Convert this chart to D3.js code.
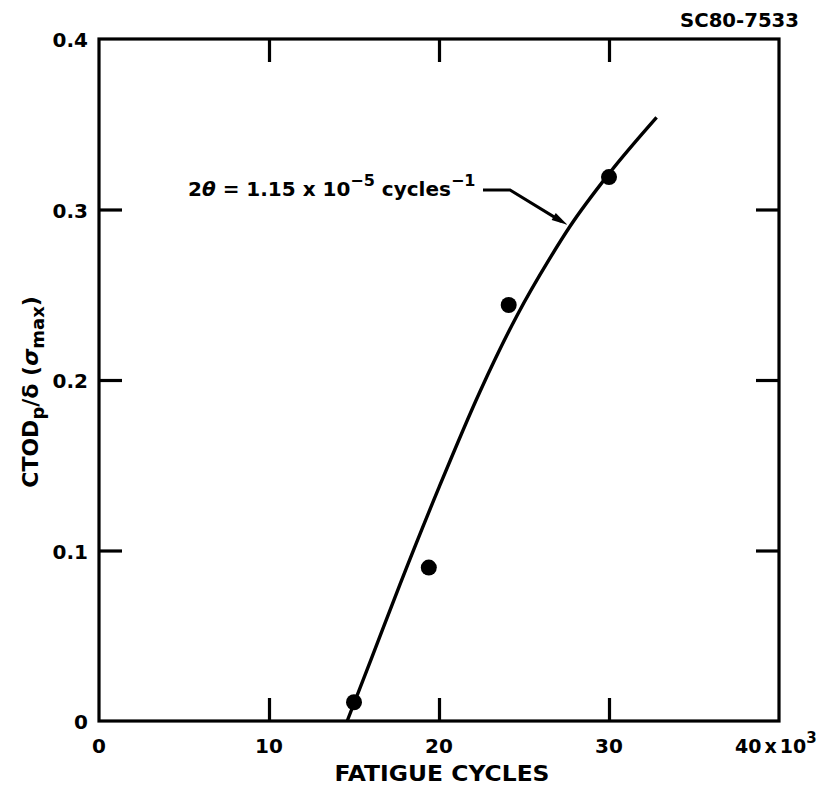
<!DOCTYPE html>
<html>
<head>
<meta charset="utf-8">
<script src="https://cdn.jsdelivr.net/npm/d3@7"></script>
<style>
  html, body { margin: 0; padding: 0; background: #fff; }
  svg text { font-family: "DejaVu Sans", "Liberation Sans", Arial, sans-serif; font-weight: bold; fill: #000; }
</style>
</head>
<body>
<svg id="chart" width="837" height="793"></svg>
<script>
// Measured points: fatigue cycles (thousands) vs normalised plastic CTOD
const cycles = [15.0, 19.4, 24.1, 30.0];
const ctod = [0.011, 0.09, 0.244, 0.319];

// Fitted curve for 2θ = 1.15e-5 cycles^-1
const fitCycles = [14.6, 16.0, 17.7, 20.0, 22.4, 24.6, 26.5, 27.7, 30.0, 32.8];
const fitCtod   = [0.0, 0.036, 0.080, 0.137, 0.193, 0.238, 0.271, 0.290, 0.321, 0.354];

const xTicks = [0, 10, 20, 30, 40];
const yTicks = [0, 0.1, 0.2, 0.3, 0.4];
const yTickLabels = ["0", "0.1", "0.2", "0.3", "0.4"];

const svg = d3.select("#chart");
const margin = { left: 99, right: 58, top: 39, bottom: 72 };
const W = 837, H = 793;

const x = d3.scaleLinear().domain([0, 40]).range([margin.left, W - margin.right]);
const y = d3.scaleLinear().domain([0, 0.4]).range([H - margin.bottom, margin.top]);

const tickLen = 23;
const axisW = 3.2;

// Inward ticks on all four sides
const axes = [
  d3.axisBottom(x).tickValues(xTicks.slice(1, -1)).tickSizeInner(-tickLen).tickSizeOuter(0).tickFormat(""),
  d3.axisTop(x).tickValues(xTicks.slice(1, -1)).tickSizeInner(-tickLen).tickSizeOuter(0).tickFormat(""),
  d3.axisLeft(y).tickValues(yTicks.slice(1, -1)).tickSizeInner(-tickLen).tickSizeOuter(0).tickFormat(""),
  d3.axisRight(y).tickValues(yTicks.slice(1, -1)).tickSizeInner(-tickLen).tickSizeOuter(0).tickFormat("")
];
const shifts = [
  `translate(0,${y(0)})`, `translate(0,${y(0.4)})`,
  `translate(${x(0)},0)`, `translate(${x(40)},0)`
];
axes.forEach((ax, i) => {
  const g = svg.append("g").attr("transform", shifts[i]).call(ax);
  g.selectAll("line").attr("stroke", "#000").attr("stroke-width", axisW);
  g.select(".domain").remove();
});

// Frame
svg.append("rect")
  .attr("x", x(0)).attr("y", y(0.4))
  .attr("width", x(40) - x(0)).attr("height", y(0) - y(0.4))
  .attr("fill", "none").attr("stroke", "#000").attr("stroke-width", axisW);

// X tick labels
xTicks.slice(0, -1).forEach(v => {
  svg.append("text").attr("x", x(v)).attr("y", y(0) + 32)
    .attr("text-anchor", "middle").attr("font-size", 20).text(v);
});
// last x label carries the ×10^3 multiplier, set with tight spacing
const lastLbl = svg.append("text").attr("x", x(40) - 44).attr("y", y(0) + 32).attr("font-size", 19);
lastLbl.append("tspan").text(xTicks[xTicks.length - 1]);
lastLbl.append("tspan").attr("dx", 3).text("x");
lastLbl.append("tspan").attr("dx", 3).text("10");
lastLbl.append("tspan").attr("font-size", 15).attr("dy", -10).text("3");

// Y tick labels
yTicks.forEach((v, i) => {
  svg.append("text").attr("x", x(0) - 11).attr("y", y(v) + 8)
    .attr("text-anchor", "end").attr("font-size", 20).text(yTickLabels[i]);
});

// Axis titles
svg.append("text").attr("x", (x(0) + x(40)) / 2 + 3).attr("y", 781)
  .attr("text-anchor", "middle").attr("font-size", 21)
  .attr("textLength", 215).attr("lengthAdjust", "spacingAndGlyphs")
  .text("FATIGUE CYCLES");

const yl = svg.append("text")
  .attr("transform", `translate(38,${y(0.193)}) rotate(-90)`)
  .attr("text-anchor", "middle").attr("font-size", 22);
yl.append("tspan").text("CTOD");
yl.append("tspan").attr("font-size", 18).attr("dy", 6).text("p");
yl.append("tspan").attr("dy", -6).text("/δ (");
yl.append("tspan").attr("font-style", "italic").text("σ");
yl.append("tspan").attr("font-size", 18).attr("dy", 6).text("max");
yl.append("tspan").attr("dy", -6).text(")");

// Report number
svg.append("text").attr("x", 799).attr("y", 27).attr("text-anchor", "end")
  .attr("font-size", 19).attr("textLength", 119).attr("lengthAdjust", "spacingAndGlyphs")
  .text("SC80-7533");

// Fitted curve
const fit = fitCycles.map((c, i) => [c, fitCtod[i]]);
svg.append("path").datum(fit)
  .attr("fill", "none").attr("stroke", "#000").attr("stroke-width", 3.4)
  .attr("d", d3.line().x(d => x(d[0])).y(d => y(d[1])).curve(d3.curveMonotoneX));

// Data points
svg.selectAll("circle.pt").data(cycles.map((c, i) => [c, ctod[i]])).enter()
  .append("circle").attr("class", "pt")
  .attr("cx", d => x(d[0])).attr("cy", d => y(d[1])).attr("r", 8).attr("fill", "#000");

// Curve annotation with leader and arrow
const ann = svg.append("text").attr("x", 188).attr("y", 196).attr("font-size", 20);
ann.append("tspan").text("2");
ann.append("tspan").attr("font-style", "italic").text("θ");
ann.append("tspan").text(" = 1.15 x 10");
ann.append("tspan").attr("font-size", 16).attr("dy", -10).text("−5");
ann.append("tspan").attr("dy", 10).text(" cycles");
ann.append("tspan").attr("font-size", 16).attr("dy", -10).text("−1");

const tip = [x(27.55), y(0.291)];
const knee = [510, 190];
svg.append("polyline")
  .attr("points", [[483, 190], knee, [tip[0] - 6, tip[1] - 3.5]].map(p => p.join(",")).join(" "))
  .attr("fill", "none").attr("stroke", "#000").attr("stroke-width", 3);
// arrowhead along the leader direction
const ang = Math.atan2(tip[1] - knee[1], tip[0] - knee[0]);
const aL = 16, aW = 4;
const bx = tip[0] - aL * Math.cos(ang), by = tip[1] - aL * Math.sin(ang);
svg.append("polygon")
  .attr("points", [
    tip,
    [bx + aW * Math.sin(ang), by - aW * Math.cos(ang)],
    [bx - aW * Math.sin(ang), by + aW * Math.cos(ang)]
  ].map(p => p.join(",")).join(" "))
  .attr("fill", "#000");
</script>
</body>
</html>
